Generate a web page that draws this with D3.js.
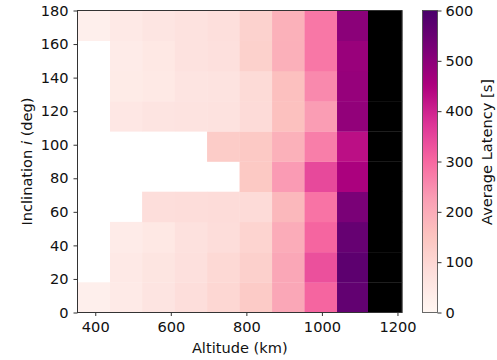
<!DOCTYPE html>
<html>
<head>
<meta charset="utf-8">
<script src="https://cdn.jsdelivr.net/npm/d3@7"></script>
<style>
  body { margin: 0; background: #fff; }
  svg text { font-family: "DejaVu Sans", sans-serif; fill: #111; }
</style>
</head>
<body>
<script>
// altitude bin edges (km) and inclination bin edges (deg)
const altEdges = [353, 439, 524, 611, 696, 782, 868, 954, 1040, 1122, 1212];
const incEdges = [0, 18, 36, 54, 72, 90, 108, 126, 144, 162, 180];

// average latency [s], one row per inclination bin (bottom -> top), null = no data
const latency = [
  [25, 42, 63, 80, 100, 132, 210, 305, 562, 700],
  [null, 45, 60, 75, 95, 120, 210, 335, 570, 700],
  [null, 38, 50, 72, 84, 108, 200, 305, 555, 700],
  [null, null, 80, 82, 85, 88, 175, 285, 525, 700],
  [null, null, null, null, null, 140, 230, 345, 455, 700],
  [null, null, null, null, 130, 138, 190, 270, 430, 700],
  [null, 52, 62, 65, 68, 88, 158, 228, 490, 700],
  [null, 40, 47, 62, 65, 90, 160, 255, 485, 700],
  [null, 38, 50, 67, 76, 118, 192, 280, 480, 700],
  [25, 45, 58, 68, 78, 115, 190, 280, 500, 700]
];

const xTicks = [400, 600, 800, 1000, 1200];
const yTicks = [0, 20, 40, 60, 80, 100, 120, 140, 160, 180];
const cbTicks = [0, 100, 200, 300, 400, 500, 600];

const chart = (() => {
  var width = 497, height = 360;
  var left = 77.5, right = 402, top = 10.5, bottom = 312.5;
  var vmax = 600;
  var fs = "14.6px";

  // RdPu, linear segments like matplotlib
  var rdpu = ["#fff7f3", "#fde0dd", "#fcc5c0", "#fa9fb5", "#f768a1",
              "#dd3497", "#ae017e", "#7a0177", "#49006a"];
  var color = d3.scaleLinear()
    .domain(d3.range(rdpu.length).map(i => i * vmax / (rdpu.length - 1)))
    .range(rdpu)
    .clamp(true);
  // values above the colour range are drawn black
  var fill = v => v > vmax ? "#000" : color(v);

  const svg = d3.select("body").append("svg")
    .attr("width", width)
    .attr("height", height);

  const x = d3.scaleLinear().domain([altEdges[0], altEdges[altEdges.length - 1]]).range([left, right]);
  const y = d3.scaleLinear().domain([0, 180]).range([bottom, top]);

  var cells = [];
  latency.forEach((row, r) => row.forEach((v, c) => {
    if (v !== null) cells.push({ r: r, c: c, v: v });
  }));

  svg.append("g").selectAll("rect")
    .data(cells)
    .enter().append("rect")
    .attr("x", d => x(altEdges[d.c]))
    .attr("y", d => y(incEdges[d.r + 1]))
    .attr("width", d => x(altEdges[d.c + 1]) - x(altEdges[d.c]) + 0.3)
    .attr("height", d => y(incEdges[d.r]) - y(incEdges[d.r + 1]) + 0.3)
    .attr("fill", d => fill(d.v));

  // frame
  svg.append("rect")
    .attr("x", left).attr("y", top)
    .attr("width", right - left).attr("height", bottom - top)
    .attr("fill", "none").attr("stroke", "#333").attr("stroke-width", 1);

  const xAxis = svg.append("g")
    .attr("transform", `translate(0,${bottom})`)
    .call(d3.axisBottom(x).tickValues(xTicks).tickFormat(d3.format("d")).tickSize(3.5).tickPadding(6));
  const yAxis = svg.append("g")
    .attr("transform", `translate(${left},0)`)
    .call(d3.axisLeft(y).tickValues(yTicks).tickFormat(d3.format("d")).tickSize(4).tickPadding(5));

  [xAxis, yAxis].forEach(a => {
    a.select(".domain").remove();
    a.selectAll(".tick line").attr("stroke", "#333");
    a.selectAll(".tick text").attr("font-size", fs).attr("fill", "#111");
  });

  svg.append("text")
    .attr("x", (left + right) / 2).attr("y", 352.5)
    .attr("text-anchor", "middle")
    .attr("font-size", fs)
    .text("Altitude (km)");

  const ylab = svg.append("text")
    .attr("transform", `translate(32,${(top + bottom) / 2}) rotate(-90)`)
    .attr("text-anchor", "middle")
    .attr("font-size", fs);
  ylab.append("tspan").text("Inclination ");
  ylab.append("tspan").attr("font-style", "italic").text("i");
  ylab.append("tspan").text(" (deg)");

  // colorbar
  var cbX = 422.5, cbW = 15;
  const cy = d3.scaleLinear().domain([0, vmax]).range([bottom, top]);

  const grad = svg.append("defs").append("linearGradient")
    .attr("id", "cbgrad")
    .attr("x1", 0).attr("y1", 1).attr("x2", 0).attr("y2", 0);
  grad.selectAll("stop")
    .data(d3.range(0, 1.0001, 0.02))
    .enter().append("stop")
    .attr("offset", t => t)
    .attr("stop-color", t => color(t * vmax));

  svg.append("rect")
    .attr("x", cbX).attr("y", top)
    .attr("width", cbW).attr("height", bottom - top)
    .attr("fill", "url(#cbgrad)")
    .attr("stroke", "#444").attr("stroke-width", 0.8);

  const cAxis = svg.append("g")
    .attr("transform", `translate(${cbX + cbW},0)`)
    .call(d3.axisRight(cy).tickValues(cbTicks).tickSize(4).tickPadding(4));
  cAxis.select(".domain").remove();
  cAxis.selectAll(".tick line").attr("stroke", "#333");
  cAxis.selectAll(".tick text").attr("font-size", fs).attr("fill", "#111");

  svg.append("text")
    .attr("transform", `translate(492,152) rotate(-90)`)
    .attr("text-anchor", "middle")
    .attr("font-size", fs)
    .text("Average Latency [s]");

  return svg;
})();
</script>
</body>
</html>
